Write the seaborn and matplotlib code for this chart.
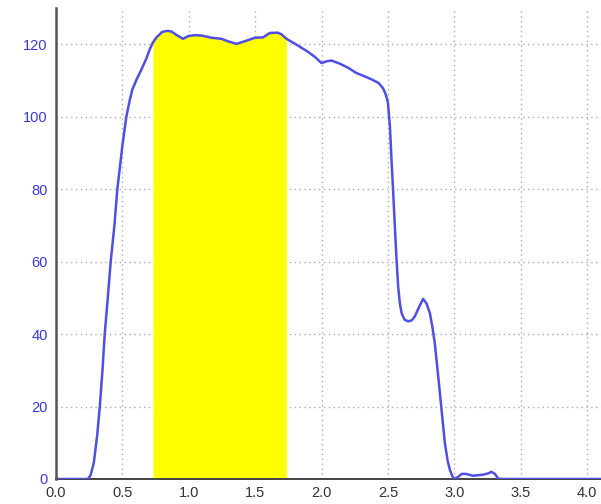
import numpy as np
import pandas as pd
import matplotlib
matplotlib.use("Agg")
import matplotlib.pyplot as plt
import seaborn as sns

# ---- data ----
x_vals = [0.0, 0.24, 0.26, 0.285, 0.31, 0.33, 0.35, 0.367, 0.39, 0.412, 0.44, 0.462,
          0.50, 0.53, 0.555, 0.575, 0.61, 0.643, 0.68, 0.706, 0.73, 0.76, 0.80, 0.84,
          0.87, 0.91, 0.957, 1.0, 1.05, 1.096, 1.17, 1.246, 1.296, 1.36, 1.42, 1.50,
          1.56, 1.61, 1.67, 1.70, 1.736, 1.81, 1.89, 1.95, 2.0, 2.04, 2.075, 2.14, 2.2,
          2.26, 2.32, 2.377, 2.43, 2.464, 2.485, 2.50, 2.515, 2.527, 2.54, 2.552, 2.565,
          2.577, 2.59, 2.603, 2.625, 2.652, 2.68, 2.703, 2.735, 2.765, 2.79, 2.816,
          2.835, 2.853, 2.879, 2.904, 2.929, 2.95, 2.967, 2.985, 3.0, 3.03, 3.055,
          3.09, 3.14, 3.218, 3.26, 3.28, 3.306, 3.33, 3.36, 4.2]
y_vals = [0.0, 0.0, 1.0, 4.5, 12.0, 20.0, 30.0, 40.0, 50.0, 60.0, 70.0, 80.0,
          92.0, 100.0, 104.5, 107.5, 110.5, 113.0, 116.0, 118.6, 120.5, 122.0, 123.4, 123.7,
          123.5, 122.5, 121.5, 122.3, 122.5, 122.4, 121.8, 121.5, 120.8, 120.1, 120.8, 121.8,
          121.9, 123.1, 123.2, 122.7, 121.5, 119.9, 118.1, 116.5, 114.8, 115.3, 115.5, 114.6, 113.5,
          112.1, 111.2, 110.3, 109.3, 107.8, 106.0, 103.9, 97.4, 88.2, 79.0, 69.8, 60.6,
          53.2, 48.5, 45.8, 44.0, 43.5, 43.8, 44.9, 47.5, 49.7, 48.5, 45.8,
          42.0, 37.5, 28.3, 19.1, 9.9, 5.0, 2.5, 0.8, 0.0, 0.6, 1.4,
          1.4, 0.9, 1.2, 1.6, 2.0, 1.4, 0.1, 0.0, 0.0]
highlight_start = 0.73
highlight_end = 1.735
x_ticks = [0.0, 0.5, 1.0, 1.5, 2.0, 2.5, 3.0, 3.5, 4.0]
y_ticks = [0, 20, 40, 60, 80, 100, 120]

df = pd.DataFrame({"x": x_vals, "y": y_vals})

sns.set_style("white")
plt.rcParams["font.family"] = ["Liberation Sans", "DejaVu Sans"]

fig = plt.figure(figsize=(6.01, 5.04), dpi=100)
ax = fig.add_axes([56 / 601, 25 / 504, (601 - 56) / 601, (479 - 8) / 504])

# highlighted area under the curve
xf = np.linspace(highlight_start, highlight_end, 400)
yf = np.interp(xf, df["x"], df["y"])
ax.fill_between(xf, 0, yf, color="#ffff00", linewidth=0, zorder=2)

sns.lineplot(data=df, x="x", y="y", sort=False, color="#4f4fe6", linewidth=1.8,
             ax=ax, zorder=3)

ax.set_xlim(0, 4.105)
ax.set_ylim(0, 130)
ax.set_xticks(x_ticks)
ax.set_xticklabels([f"{v:.1f}" for v in x_ticks])
ax.set_yticks(y_ticks)
ax.set_xlabel("")
ax.set_ylabel("")

ax.grid(True, linestyle=(0, (1, 2.5)), color="#ababab", linewidth=1.0, zorder=1)
ax.set_axisbelow(True)

for side in ["top", "right"]:
    ax.spines[side].set_visible(False)
ax.spines["left"].set_color("#555555")
ax.spines["left"].set_linewidth(1.8)
ax.spines["bottom"].set_color("#444444")
ax.spines["bottom"].set_linewidth(1.4)
ax.spines["left"].set_zorder(4)

ax.tick_params(axis="y", direction="out", length=4, width=1.2, color="#333333",
               labelcolor="#3a3ad8", labelsize=10.5, pad=2)
ax.tick_params(axis="x", direction="out", length=3, width=1.2, color="#333333",
               labelcolor="#333333", labelsize=10.5, pad=2)

fig.savefig("out.png", dpi=100)
